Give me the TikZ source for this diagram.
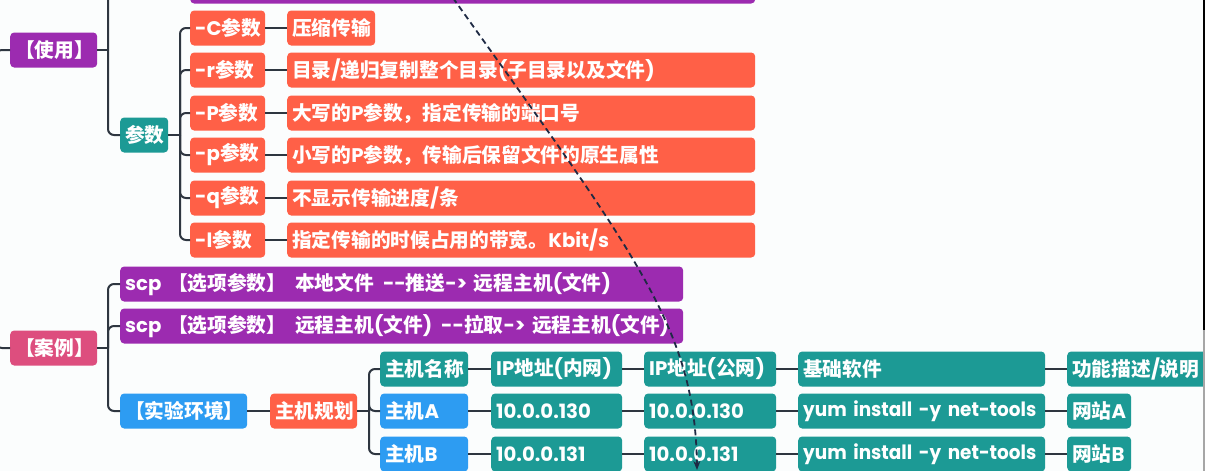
\documentclass[tikz,border=0pt]{standalone}
\usepackage{fontspec}
\setmainfont{Noto Sans CJK SC}
\newfontfamily\latfont{Poppins}
\newfontfamily\latnarrow{Poppins}[FakeStretch=0.935]
\usetikzlibrary{arrows.meta}
\definecolor{cpurple}{HTML}{9C2BB0}
\definecolor{corange}{HTML}{FF6047}
\definecolor{cteal}{HTML}{1C9A95}
\definecolor{cblue}{HTML}{2D9CF2}
\definecolor{cpink}{HTML}{DD4E7E}
\definecolor{cline}{HTML}{2E3640}
\definecolor{cbg}{HTML}{FBFDFD}
\definecolor{carrow}{HTML}{1E2A44}
\newcommand\lt[1]{{\latfont #1}}
\newcommand\ltn[1]{\mbox{\latnarrow #1}}
\begin{document}
\begin{tikzpicture}[x=1pt,y=-1pt,
 box/.style={rounded corners=4pt, minimum height=35pt, inner xsep=5pt, inner ysep=0pt, anchor=west, text=white, align=left, font=\bfseries\fontsize{19.7}{22}\selectfont},
 cbox/.style={box, align=center},
 conn/.style={draw=cline, line width=2pt, rounded corners=6pt},
 dasharrow/.style={draw=carrow, line width=1.8pt, dash pattern=on 6pt off 4pt, -{Stealth[length=9pt,width=7pt]}},
]
\clip (0,0) rectangle (1205,471);
\fill[cbg] (0,0) rectangle (1205,471);

% top bar (cut off)
\node[box, fill=cpurple, text width=555pt] (top) at (190,-14) {};

% usage section
\node[cbox, fill=cpurple, text width=77pt] (use) at (10,50) {\mbox{【使用】}};
\node[cbox, fill=cteal, text width=38pt] (para) at (120,135) {\mbox{参数}};

\node[box, fill=corange, text width=65pt] (pC) at (190,28) {\mbox{\lt{-C}参数}};
\node[box, fill=corange, text width=65pt] (pr) at (190,70) {\mbox{\lt{-r}参数}};
\node[box, fill=corange, text width=65pt] (pP) at (190,113) {\mbox{\lt{-P}参数}};
\node[box, fill=corange, text width=65pt] (pp) at (190,155) {\mbox{\lt{-p}参数}};
\node[box, fill=corange, text width=65pt] (pq) at (190,198) {\mbox{\lt{-q}参数}};
\node[box, fill=corange, text width=65pt] (pl) at (190,240) {\mbox{\lt{-l}参数}};

\node[box, fill=corange, text width=78pt] (dC) at (287,28) {\mbox{压缩传输}};
\node[box, fill=corange, text width=458pt] (dr) at (287,70) {目录\lt{/}递归复制整个目录\lt{(}子目录以及文件\lt{)}};
\node[box, fill=corange, text width=458pt] (dP) at (287,113) {大写的\lt{P}参数，指定传输的端口号};
\node[box, fill=corange, text width=458pt] (dp) at (287,155) {小写的\lt{P}参数，传输后保留文件的原生属性};
\node[box, fill=corange, text width=458pt] (dq) at (287,198) {不显示传输进度\lt{/}条};
\node[box, fill=corange, text width=458pt] (dl) at (287,240) {指定传输的时候占用的带宽。\lt{Kbit/s}};

% case section
\node[cbox, fill=cpink, text width=77pt] (case) at (10,348) {\mbox{【案例】}};
\node[box, fill=cpurple, text width=553pt] (scpa) at (120,284) {\mbox{\lt{scp }【选项参数】\hspace{9pt}本地文件\lt{\hspace{9pt}--}推送\lt{-> }远程主机\lt{(}文件\lt{)}}};
\node[box, fill=cpurple, text width=553pt] (scpb) at (120,326) {\mbox{\lt{scp }【选项参数】\hspace{9pt}远程主机\lt{(}文件\lt{)\hspace{9pt}--}拉取\lt{-> }远程主机\lt{(}文件\lt{)}}};
\node[cbox, fill=cblue, text width=117pt] (env) at (120,411) {\mbox{【实验环境】}};
\node[cbox, fill=corange, text width=77pt] (plan) at (270,411) {\mbox{主机规划}};

\node[box, fill=cteal, text width=78pt] (hn) at (380,369) {\mbox{主机名称}};
\node[box, fill=cblue, text width=78pt] (ha) at (380,411) {\mbox{主机\lt{A}}};
\node[box, fill=cblue, text width=78pt] (hb) at (380,454) {\mbox{主机\lt{B}}};

\node[box, fill=cteal, text width=121pt] (in0) at (491,369) {\mbox{\lt{IP}地址\lt{(}内网\lt{)}}};
\node[box, fill=cteal, text width=121pt] (ina) at (491,411) {\lt{10.0.0.130}};
\node[box, fill=cteal, text width=121pt] (inb) at (491,454) {\lt{10.0.0.131}};

\node[box, fill=cteal, text width=122pt] (pu0) at (644,369) {\mbox{\lt{IP}地址\lt{(}公网\lt{)}}};
\node[box, fill=cteal, text width=122pt] (pua) at (644,411) {\lt{10.0.0.130}};
\node[box, fill=cteal, text width=122pt] (pub) at (644,454) {\lt{10.0.0.131}};

\node[box, fill=cteal, text width=237pt] (sw0) at (798,369) {基础软件};
\node[box, fill=cteal, text width=237pt] (swa) at (798,411) {\ltn{yum install -y net-tools}};
\node[box, fill=cteal, text width=237pt] (swb) at (798,454) {\ltn{yum install -y net-tools}};

\node[box, fill=cteal, text width=140pt] (fn0) at (1067,369) {\mbox{功能描述\lt{/}说明}};
\node[box, fill=cteal, text width=54pt] (fna) at (1067,411) {\mbox{网站\lt{A}}};
\node[box, fill=cteal, text width=54pt] (fnb) at (1067,454) {\mbox{网站\lt{B}}};

% trunks
\coordinate (rootmid) at (-4,200);
\coordinate (tu) at (108,0);
\coordinate (tp) at (180,0);
\coordinate (th) at (369,0);

\draw[conn] (rootmid) |- (use.west);
\draw[conn] (rootmid) |- (case.west);

\draw[conn] (use.east) -- (use.east -| tu);
\draw[conn] (use.east -| tu) |- (para.west);
\draw[conn] (use.east -| tu) |- (top.west);

\draw[conn] (para.east) -- (para.east -| tp);
\foreach \c in {pC,pr,pP,pp,pq,pl} \draw[conn] (para.east -| tp) |- (\c.west);
\draw[conn] (pC.east) -- (dC.west);
\draw[conn] (pr.east) -- (dr.west);
\draw[conn] (pP.east) -- (dP.west);
\draw[conn] (pp.east) -- (dp.west);
\draw[conn] (pq.east) -- (dq.west);
\draw[conn] (pl.east) -- (dl.west);

\draw[conn] (case.east) -- (case.east -| tu);
\foreach \c in {scpa,scpb,env} \draw[conn] (case.east -| tu) |- (\c.west);
\draw[conn] (env.east) -- (plan.west);
\draw[conn] (plan.east) -- (plan.east -| th);
\foreach \c in {hn,ha,hb} \draw[conn] (plan.east -| th) |- (\c.west);

\draw[conn] (hn.east) -- (in0.west);
\draw[conn] (in0.east) -- (pu0.west);
\draw[conn] (pu0.east) -- (sw0.west);
\draw[conn] (sw0.east) -- (fn0.west);
\draw[conn] (ha.east) -- (ina.west);
\draw[conn] (ina.east) -- (pua.west);
\draw[conn] (pua.east) -- (swa.west);
\draw[conn] (swa.east) -- (fna.west);
\draw[conn] (hb.east) -- (inb.west);
\draw[conn] (inb.east) -- (pub.west);
\draw[conn] (pub.east) -- (swb.west);
\draw[conn] (swb.east) -- (fnb.west);

% dashed arrow
\coordinate (as) at (453,-2);
\coordinate (ae) at (697,470);
\draw[dasharrow] (as) .. controls (640,260) and (695,330) .. (ae);

% window edge
\fill[black] (1202.5,0) rectangle (1205,330);
\fill[gray!70] (1202.5,330) rectangle (1205,471);
\end{tikzpicture}
\end{document}
